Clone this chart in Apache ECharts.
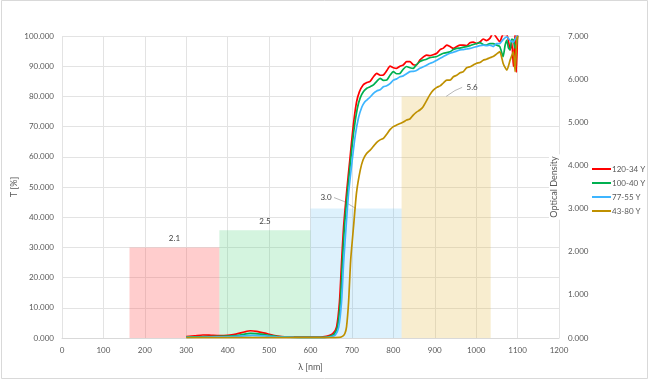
<!DOCTYPE html>
<html>
<head>
<meta charset="utf-8">
<script src="https://cdn.jsdelivr.net/npm/echarts@6/dist/echarts.min.js"></script>
<style>html,body{margin:0;padding:0;background:#fff}#c{width:652px;height:383px}</style>
</head>
<body>
<div id="c"></div>
<script>
// ---- data ----
const xTicks = [0, 1200, 100];           // min, max, step for wavelength axis
const seriesNames = ['120-34 Y', '100-40 Y', '77-55 Y', '43-80 Y'];
const red = [[300,0.5],[320,0.7],[340,1.0],[360,0.9],[380,0.8],[400,0.9],[420,1.3],[440,2.0],[455,2.4],[470,2.2],[490,1.6],[510,0.9],[530,0.5],[560,0.3],[600,0.3],[630,0.4],[645,0.8],[655,1.6],[663,3.7],[670,12],[675,25],[680,37],[687,48],[695,59],[703,70],[711,78],[718,81.5],[727,83.8],[735,84.5],[744,85],[752,86.5],[760,87.6],[768,87],[776,87.1],[784,88.5],[792,90],[800,89.5],[808,89.3],[816,90],[824,90.4],[832,91.5],[840,91.5],[848,90.5],[856,90.4],[864,92],[872,93],[880,93.7],[888,93.5],[896,93.8],[905,94.3],[913,95.5],[921,96],[929,97],[937,96.5],[945,95.9],[953,96.5],[961,97],[969,97],[977,96.8],[985,97.8],[993,98],[1001,97.5],[1009,98],[1017,99],[1025,98.5],[1033,99.2],[1041,101],[1049,99.5],[1057,98.1],[1065,100.5],[1074,100.5],[1082,95.4],[1086,98],[1090,89.9],[1094,101],[1097,88],[1100,101]];
const green = [[300,0.3],[330,0.4],[360,0.5],[400,0.6],[430,1.0],[455,1.5],[480,1.3],[500,0.9],[520,0.5],[550,0.3],[600,0.2],[640,0.3],[650,0.7],[657,1.2],[665,3.5],[672,12],[677,25],[682,37],[689,48],[697,59],[705,69],[713,76],[720,79.5],[728,81.6],[736,82.7],[744,83.2],[752,83.8],[760,85],[768,86],[776,85.3],[784,85.4],[792,87],[800,88.2],[808,87.5],[816,87.6],[824,89],[832,89.9],[840,89.5],[848,89.3],[856,90.5],[864,91.5],[872,92],[880,92.3],[888,92.8],[896,93],[905,93.2],[913,93.8],[921,94.3],[929,94.5],[937,94.8],[945,95.5],[953,95.9],[961,96],[969,96.3],[977,96.5],[985,96.8],[993,97.2],[1001,97.5],[1009,97.8],[1017,97.2],[1025,97],[1033,97.5],[1041,97.5],[1049,97],[1057,96.5],[1065,93.2],[1070,97],[1074,98.6],[1078,96],[1082,95.4],[1086,99],[1090,98.6],[1094,96],[1098,97.5],[1100,100]];
const blue = [[300,0.2],[350,0.3],[400,0.4],[430,0.6],[460,0.9],[490,0.7],[520,0.4],[560,0.2],[600,0.1],[640,0.2],[652,0.5],[660,1.0],[668,3.5],[675,12],[680,25],[686,37],[692,48],[700,58],[708,67],[716,73],[724,76.5],[730,78],[736,78.8],[744,79.8],[752,81],[760,81.8],[768,82.2],[776,83.2],[784,83.5],[792,84.2],[800,85.4],[808,85.8],[816,86.5],[824,86.8],[832,87.5],[840,88.2],[848,88.3],[856,88.6],[864,89.3],[872,89.8],[880,90.3],[888,90.9],[896,91.3],[905,92],[913,92.6],[921,93.2],[929,93.8],[937,94.3],[945,94.6],[953,95],[961,95.4],[969,95.5],[977,95.7],[985,95.9],[993,96.2],[1001,96.5],[1009,96.8],[1017,97],[1025,96.8],[1033,97],[1041,96.5],[1049,97.5],[1057,97.5],[1065,98.8],[1074,99.7],[1082,98.5],[1090,98],[1094,99],[1098,100],[1100,101]];
const gold = [[300,0.1],[400,0.1],[500,0.1],[600,0.1],[670,0.2],[678,0.6],[683,1.5],[687,3.7],[692,12],[697,25.8],[704,37],[711,48],[720,55.5],[727,59],[735,61],[744,62.2],[752,63.5],[760,64.8],[768,65.6],[776,66.1],[784,67.5],[792,69],[800,70],[808,70.5],[816,71],[824,71.5],[832,72.2],[840,72.5],[848,73.8],[856,74.8],[864,75.5],[872,76.6],[880,78.5],[888,80.5],[896,82],[905,83],[913,83.5],[921,84.5],[929,85.4],[937,85.4],[945,86.5],[953,87],[961,87.8],[969,88.2],[977,89.5],[985,89.8],[993,90.4],[1001,91],[1009,91.2],[1017,92],[1025,92.3],[1033,92.8],[1041,93.2],[1049,94],[1057,94.8],[1065,91],[1070,89.5],[1074,88.7],[1082,92],[1090,94.8],[1094,88.2],[1098,98.7],[1100,100]];
const bandStart = [163, 380, 600, 820];
const bandEnd = [380, 600, 820, 1035];
const bandOD = [2.1, 2.5, 3.0, 5.6];

// ---- styles ----
const lineColors = ['#FF0000', '#00B050', '#3DB5FF', '#BF9000'];
const bandColors = ['rgba(255,90,90,0.30)', 'rgba(83,211,127,0.25)', 'rgba(85,185,240,0.20)', 'rgba(227,183,63,0.25)'];
const labelShift = [[0, -9, false], [0, -9, false], [-30, -11, true], [26, -9, true]];
const FONT = 'Lato';
const txt = '#595959';

const chart = echarts.init(document.getElementById('c'), null, {renderer: 'canvas'});
const bandData = bandStart.map((s, i) => [s, bandEnd[i], bandOD[i]]);

function renderBand(params, api) {
  const i = params.dataIndex;
  const p0 = api.coord([api.value(0), 0]);
  const p1 = api.coord([api.value(1), api.value(2)]);
  const cx = (p0[0] + p1[0]) / 2, top = p1[1];
  const sh = labelShift[i];
  const lx = cx + sh[0], ly = top + sh[1];
  const children = [{
    type: 'rect',
    shape: {x: p0[0], y: p1[1], width: p1[0] - p0[0], height: p0[1] - p1[1]},
    style: {fill: bandColors[i]}
  }, {
    type: 'text',
    x: lx, y: ly,
    style: {text: api.value(2).toFixed(1), fill: '#404040', font: '8px ' + FONT, align: 'center', verticalAlign: 'middle'},
    z2: 10
  }];
  if (sh[2]) {
    const sx = sh[0] < 0 ? lx + 8 : lx - 10;
    children.push({
      type: 'polyline',
      shape: {points: [[sx, ly], [sx + (cx - sx) * 0.45, ly + (top - ly) * 0.35], [cx, top]]},
      style: {stroke: '#A6A6A6', lineWidth: 0.8, fill: null},
      z2: 10
    });
  }
  return {type: 'group', children};
}

const lineData = [red, green, blue, gold];
const lineSeries = lineData.map((d, i) => ({
  name: seriesNames[i],
  type: 'line',
  data: d,
  showSymbol: false,
  symbol: 'none',
  smooth: 0.2,
  clip: true,
  lineStyle: {color: lineColors[i], width: 1.7},
  itemStyle: {color: lineColors[i]},
  z: 3 + i
}));

chart.setOption({
  animation: false,
  backgroundColor: '#fff',
  textStyle: {fontFamily: FONT},
  graphic: [{type: 'rect', shape: {x: 1.5, y: 0.5, width: 646, height: 378}, style: {fill: null, stroke: '#D9D9D9', lineWidth: 1}, silent: true}],
  grid: {left: 62, right: 93, top: 36, bottom: 45, outerBoundsMode: 'none', containLabel: false},
  legend: {
    orient: 'vertical', left: 587, top: 160,
    itemWidth: 19, itemHeight: 2, itemGap: 6,
    icon: 'rect',
    data: seriesNames,
    textStyle: {fontSize: 8, color: txt, fontFamily: FONT, padding: [0, 0, 0, -4]}
  },
  xAxis: {
    type: 'value', min: xTicks[0], max: xTicks[1], interval: xTicks[2],
    name: 'λ [nm]', nameLocation: 'middle', nameGap: 25, nameMoveOverlap: false,
    nameTextStyle: {fontSize: 9, color: txt, fontFamily: FONT},
    axisLine: {show: true, lineStyle: {color: '#D9D9D9'}},
    axisTick: {show: false},
    axisLabel: {fontSize: 8, color: txt, margin: 8, fontFamily: FONT, formatter: v => String(v)},
    splitLine: {show: true, lineStyle: {color: '#E3E3E3', width: 1}}
  },
  yAxis: [{
    type: 'value', min: 0, max: 100, interval: 10,
    name: 'T [%]', nameLocation: 'middle', nameGap: 43, nameRotate: 90, nameMoveOverlap: false,
    nameTextStyle: {fontSize: 9, color: txt, fontFamily: FONT},
    axisLine: {show: false}, axisTick: {show: false},
    axisLabel: {fontSize: 8, color: txt, margin: 8, fontFamily: FONT, formatter: v => v.toFixed(3)},
    splitLine: {show: true, lineStyle: {color: '#E3E3E3', width: 1}}
  }, {
    type: 'value', min: 0, max: 7, interval: 1, position: 'right',
    name: 'Optical Density', nameLocation: 'middle', nameGap: -10, nameRotate: 90, nameMoveOverlap: false,
    nameTextStyle: {fontSize: 9, color: txt, fontFamily: FONT, backgroundColor: '#fff', padding: [1, 2]},
    axisLine: {show: false}, axisTick: {show: false},
    axisLabel: {fontSize: 8, color: txt, margin: 9, fontFamily: FONT, formatter: v => v.toFixed(3)},
    splitLine: {show: false}
  }],
  series: [{
    type: 'custom',
    yAxisIndex: 1,
    renderItem: renderBand,
    data: bandData,
    encode: {x: [0, 1], y: 2},
    z: 1,
    silent: true
  }].concat(lineSeries)
});
</script>
</body>
</html>
